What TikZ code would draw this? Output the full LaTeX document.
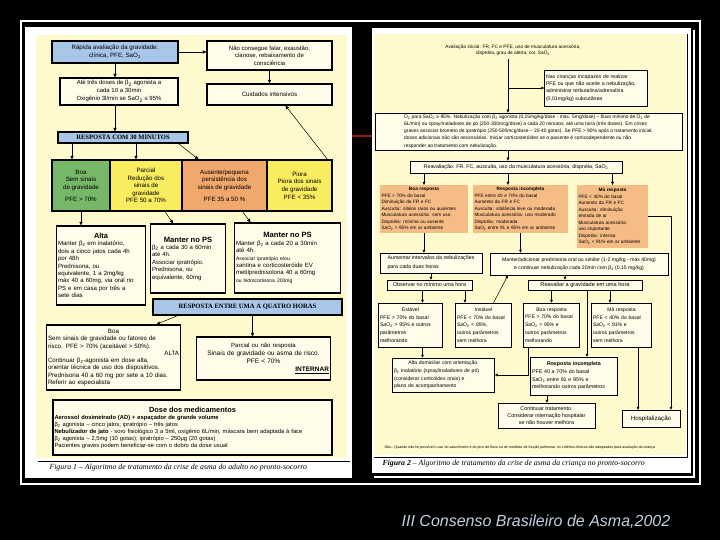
\documentclass[tikz,border=0pt]{standalone}
\usepackage{fontspec}
\setmainfont{Liberation Sans}
\newfontfamily\timesfont{Liberation Serif}
\usepackage{xcolor}
\definecolor{papercream}{RGB}{255,249,206}
\definecolor{boxcream}{RGB}{255,253,234}
\definecolor{barblue}{RGB}{168,198,232}
\definecolor{crgreen}{RGB}{118,184,104}
\definecolor{cryellow}{RGB}{250,236,95}
\definecolor{crorange}{RGB}{240,168,108}
\definecolor{kidorange}{RGB}{246,188,134}
\definecolor{joinred}{RGB}{150,25,25}
\definecolor{captxt}{RGB}{195,208,225}
\usetikzlibrary{arrows.meta}
\newcommand{\fsz}[2]{\fontsize{#1}{#2}\selectfont}
\newcommand{\betadois}{β\textsubscript{2}}
\newcommand{\saodois}{SaO\textsubscript{2}}
\newcommand{\odois}{O\textsubscript{2}}
\tikzset{
  adbox/.style={draw=black, line width=1.3pt, fill=boxcream, inner sep=1.5pt, align=center},
  adbar/.style={adbox, fill=barblue, font=\timesfont\bfseries\fsz{6.6}{7}},
  crbox/.style={adbox, font=\fsz{6.2}{7.6}},
  kidbox/.style={draw=black, line width=0.5pt, fill=boxcream, inner sep=1.5pt},
  kidcat/.style={fill=kidorange, inner sep=1.5pt, align=left, font=\fsz{4.7}{6.5}},
  adarr/.style={-{Triangle[length=3.5pt,width=3.2pt]}, line width=0.5pt},
  kidarr/.style={-{Triangle[length=3pt,width=2.8pt]}, line width=0.5pt}
}
\begin{document}
\begin{tikzpicture}[x=1pt,y=-1pt]
  \useasboundingbox (0,0) rectangle (720,540);
  \fill[black] (0,0) rectangle (720,540);
  %% Frames and paper
  \draw[white, line width=1.4pt] (21,21) rectangle (700,484);
  \fill[white] (25,27) rectangle (352,478);
  \fill[papercream] (36,35) rectangle (347,458);
  \draw[black, line width=0.6pt] (38,461) -- (350,461);
  \fill[white] (372,28) rectangle (691,473);
  \fill[papercream] (374,34) rectangle (686,455);
  \draw[black, line width=1pt] (687,34) -- (687,457) -- (374,457);
  \draw[white, line width=1.5pt] (694,30) -- (694,477) -- (374,477);
  \draw[joinred, line width=1.2pt] (352,136) -- (372,136);

  %% Adult algorithm (left)
  \node[crbox, fill=barblue, minimum width=126, minimum height=22] (rapida) at (115,52) {Rápida avaliação da gravidade:\\clínica, PFE, \saodois};
  \node[crbox, font=\fsz{6}{7.6}, minimum width=125, minimum height=29] (naoconsegue) at (269.5,55.5) {Não consegue falar, exaustão,\\cianose, rebaixamento de\\consciência};
  \node[crbox, font=\fsz{6}{8}, minimum width=118, minimum height=27] (atetres) at (119,91.5) {Até três doses de \betadois{} agonista a\\cada 10 a 30min\\Oxigênio 3l/min se \saodois{} ≤ 95\%};
  \node[crbox, minimum width=125, minimum height=21] (cuidados) at (269.5,94.5) {Cuidados intensivos};
  \node[adbar, minimum width=130, minimum height=11] (resp30) at (123,137.5) {RESPOSTA COM 30 MINUTOS};

  \node[crbox, fill=crgreen, minimum width=58, minimum height=51] (boa) at (81,185.5) {Boa\\Sem sinais\\de gravidade\\[4pt]PFE > 70\%};
  \node[crbox, fill=cryellow, minimum width=72, minimum height=51] (parcial) at (146,185.5) {Parcial\\Redução dos\\sinais de\\gravidade\\PFE 50 a 70\%};
  \node[crbox, fill=crorange, minimum width=85, minimum height=51] (ausente) at (224.5,185.5) {Ausente/pequena\\persistência dos\\sinais de gravidade\\[4pt]PFE 35 a 50 \%};
  \node[crbox, fill=cryellow, minimum width=65, minimum height=51] (piora) at (299.5,185.5) {Piora\\Piora dos sinais\\de gravidade\\PFE < 35\%};

  \node[adbox, align=left, text width=86, minimum height=79, font=\fsz{6.1}{7.4}] (alta) at (101,265.5) {{\centering\fsz{7.4}{9}\bfseries Alta\par}Manter \betadois{} em inalatório,\\dois a cinco jatos cada 4h\\por 48h\\Prednisona, ou\\equivalente, 1 a 2mg/kg\\máx 40 a 60mg, via oral no\\PS e em casa por três a\\sete dias};
  \node[adbox, align=left, text width=72, minimum height=69, font=\fsz{6}{7.4}] (manter1) at (188,258.5) {{\centering\fsz{7.6}{9}\bfseries Manter no PS\par}\betadois{} a cada 30 a 60min\\até 4h.\\Associar ipratrópio.\\Prednisona, ou\\equivalente, 60mg};
  \node[adbox, align=left, text width=103, minimum height=70, font=\fsz{6.1}{7.4}] (manter2) at (287.5,258) {{\centering\fsz{7.6}{9}\bfseries Manter no PS\par}Manter \betadois{} a cada 20 a 30min\\até 4h.\\{\fsz{5}{7.4}Associar ipratrópio e/ou}\\xantina e corticosteróide EV\\metilprednisolona 40 a 60mg\\{\fsz{5}{7.4}ou hidrocortisona 200mg}};
  \node[adbar, minimum width=189, minimum height=16] (resp14) at (247.5,307) {RESPOSTA ENTRE UMA A QUATRO HORAS};

  \node[adbox, align=left, text width=131, minimum height=65, font=\fsz{6.2}{7.3}] (boa2) at (113.5,357.5) {{\centering Boa\par}Sem sinais de gravidade ou fatores de\\risco. PFE > 70\% (aceitável > 50\%).\\\hspace*{\stretch{1000}}ALTA\\Continuar \betadois-agonista em dose alta,\\orientar técnica de uso dos dispositivos.\\Prednisona 40 a 60 mg por sete a 10 dias.\\Referir ao especialista};
  \node[adbox, text width=131, minimum height=43, font=\fsz{6.5}{8}] (parcial2) at (263.5,358.5) {{\fsz{6}{8}Parcial ou não resposta}\\Sinais de gravidade ou asma de risco.\\PFE < 70\%\\\hspace*{\stretch{1000}}\underline{\textbf{INTERNAR}}};
  \node[adbox, align=left, text width=276, minimum height=55, font=\fsz{5.8}{7}] (dose) at (192.5,427.5) {{\centering\fsz{7.4}{9}\bfseries Dose dos medicamentos\par}\textbf{Aerossol dosimetrado (AD) + espaçador de grande volume}\\\betadois{} agonista – cinco jatos; ipratrópio – três jatos\\\textbf{Nebulizador de jato} - soro fisiológico 3 a 5ml, oxigênio 6L/min, máscara bem adaptada à face\\\betadois{} agonista – 2,5mg (10 gotas); ipratrópio – 250μg (20 gotas)\\Pacientes graves podem beneficiar-se com o dobro da dose usual};
  \node[anchor=west, font=\timesfont\itshape\fsz{7.8}{9}] (fig1) at (46,468) {Figura 1 – Algoritmo de tratamento da crise de asma do adulto no pronto-socorro};

  \draw[adarr] (rapida.east) -- (naoconsegue.west |- rapida.east);
  \draw[adarr] (rapida.south) -- (rapida.south |- atetres.north);
  \draw[adarr] (naoconsegue.south) -- (cuidados.north);
  \draw[adarr] (rapida.south |- atetres.south) -- (rapida.south |- resp30.north);
  \draw[adarr] ([xshift=-9pt]boa.north |- resp30.south) -- ([xshift=-9pt]boa.north);
  \draw[adarr] ([xshift=-10pt]parcial.north |- resp30.south) -- ([xshift=-10pt]parcial.north);
  \draw[adarr] ([xshift=-10pt]resp30.south east) -- ([xshift=-26pt]ausente.north);
  \draw[adarr] ([xshift=28pt]piora.north) -- ([xshift=16pt]cuidados.south);
  \draw[adarr] (boa.south) -- (boa.south |- alta.north);
  \draw[adarr] ([xshift=19pt]parcial.south) -- ([xshift=-15pt]manter1.north);
  \draw[adarr] ([xshift=18pt]ausente.south) -- ([xshift=-37pt]manter2.north);
  \draw[adarr] ([xshift=-70pt]resp14.south) -- ([xshift=43pt]boa2.north);
  \draw[adarr] ([xshift=5pt]resp14.south) -- ([xshift=5pt]resp14.south |- parcial2.north);

  %% Child algorithm (right)
  \node[align=center, font=\fsz{4.8}{6.2}] (aval) at (513,50) {Avaliação inicial: FR, FC e PFE, uso de musculatura acessória,\\dispnéia, grau de alerta, cor, \saodois};
  \coordinate (trunk) at (508,58);
  \node[kidbox, align=left, text width=100, minimum height=36, font=\fsz{5.2}{7.2}] (nas) at (596,88) {Nas crianças incapazes de realizar\\PFE ou que não aceite a nebulização,\\administrar terbutalina/adrenalina\\(0,01mg/kg) subcutânea};
  \node[kidbox, align=left, minimum width=307, minimum height=37, font=\fsz{4.9}{7.2}] (o2box) at (528.5,131.5) {\odois{} para \saodois{} ≥ 95\%. Nebulização com \betadois{} agonista (0,15mg/kg/dose - máx. 5mg/dose) – fluxo mínimo de \odois{} de\\6L/min) ou spray/inaladores de pó (200-300mcg/dose) a cada 20 minutos, até uma hora (três doses). Em crises\\graves associar brometo de ipratrópio (250-500mcg/dose – 20-40 gotas). Se PFE > 90\% após o tratamento inicial,\\doses adicionais não são necessárias. Iniciar corticosteróides se o paciente é corticodependente ou não\\responder ao tratamento com nebulização.};
  \node[kidbox, minimum width=212, minimum height=12, font=\fsz{5.3}{6}] (reav) at (516,167) {Reavaliação: FR, FC, ausculta, uso da musculatura acessória, dispnéia, \saodois};

  \node[kidcat, text width=85, minimum height=48] (boaresp) at (424,209) {{\centering\bfseries Boa resposta\par}PFE > 70\% do basal\\Diminuição da FR e FC\\Ausculta: sibilos raros ou ausentes\\Musculatura acessória: sem uso\\Dispnéia: mínima ou ausente\\\saodois{} > 95\% em ar ambiente};
  \node[kidcat, text width=92, minimum height=48] (incomp) at (520.5,209) {{\centering\bfseries Resposta incompleta\par}PFE entre 40 e 70\% do basal\\Aumento da FR e FC\\Ausculta: sibilância leve ou moderada\\Musculatura acessória: uso moderado\\Dispnéia: moderada\\\saodois{} entre 91 e 95\% em ar ambiente};
  \node[kidcat, text width=68, minimum height=63] (maresp) at (612.5,216.5) {{\centering\bfseries Má resposta\par}PFE < 40\% do basal\\Aumento da FR e FC\\Ausculta: diminuição\\entrada de ar\\Musculatura acessória:\\uso importante\\Dispnéia: intensa\\\saodois{} < 91\% em ar ambiente};

  \node[kidbox, align=left, minimum width=102, minimum height=20, font=\fsz{5.3}{9}] (aumentar) at (431,263) {Aumentar intervalos da nebulizações\\para cada duas horas};
  \node[kidbox, align=center, minimum width=178, minimum height=22, font=\fsz{5.1}{7.5}] (manteradd) at (579,264) {Manter/adicionar prednisona oral ou similar (1-2 mg/kg - máx 40mg)\\e continuar nebulização cada 20min com \betadois{} (0,15 mg/kg)};
  \node[kidbox, minimum width=85, minimum height=10, inner sep=0.5pt, font=\fsz{5.4}{6}] (observar) at (429.5,285) {Observar no mínimo uma hora};
  \node[kidbox, minimum width=114, minimum height=10, inner sep=0.5pt, font=\fsz{5.6}{6}] (reavaliar) at (585,285) {Reavaliar a gravidade em uma hora};

  \node[kidbox, align=left, text width=61, minimum height=44, font=\fsz{5.2}{7.8}] (estavel) at (410.5,325) {{\centering Estável\par}PFE > 70\% do basal\\\saodois{} > 95\% e outros\\parâmetros\\melhorando};
  \node[kidbox, align=left, text width=53, minimum height=44, font=\fsz{5.1}{7.8}] (instavel) at (483.5,325) {{\centering Instável\par}PFE < 70\% do basal\\\saodois{} < 95\%,\\outros parâmetros\\sem melhora};
  \node[kidbox, align=left, text width=53, minimum height=44, font=\fsz{5.1}{7.8}] (boaresp2) at (551.5,325) {{\centering Boa resposta\par}PFE > 70\% do basal\\\saodois{} > 95\% e\\outros parâmetros\\melhorando};
  \node[kidbox, align=left, text width=57, minimum height=44, font=\fsz{5.1}{7.8}] (maresp2) at (621.5,325) {{\centering Má resposta\par}PFE < 40\% do basal\\\saodois{} < 91\% e\\outros parâmetros\\sem melhora};

  \node[kidbox, align=left, text width=99, minimum height=34, font=\fsz{5.1}{7.6}] (altadom) at (443.5,375) {{\centering Alta domiciliar com orientação.\par}\betadois{} inalatório (spray/inaladores de pó)\\(considerar corticóides orais) e\\plano de acompanhamento};
  \node[kidbox, align=left, text width=84, minimum height=38, font=\fsz{5.3}{7.6}] (incomp2) at (574,376) {{\centering\bfseries Resposta incompleta\par}PFE 40 a 70\% do basal\\\saodois{} entre 91 e 95\% e\\melhorando outros parâmetros};
  \node[kidbox, align=center, minimum width=97, minimum height=25, font=\fsz{5.4}{7.2}] (continuar) at (546.5,415.5) {Continuar tratamento.\\Considerar internação hospitalar\\se não houver melhora};
  \node[kidbox, minimum width=58, minimum height=17, font=\fsz{6.2}{7}] (hosp) at (651,418.5) {Hospitalização};

  \node[anchor=west, font=\fsz{3.6}{4}] (obs) at (381,448) {Obs.: Quando não for possível o uso do saturômetro e do pico de fluxo ou de medidas de função pulmonar, os critérios clínicos são adequados para avaliação da criança};
  \node[anchor=west, font=\timesfont\itshape\fsz{7.8}{9}] (fig2) at (379,464) {\textbf{Figura 2} – Algoritmo de tratamento da crise de asma da criança no pronto-socorro};

  \draw[kidarr] (aval.south -| trunk) -- (trunk |- o2box.north);
  \draw[kidarr] (trunk |- nas.west) -- (nas.west);
  \draw[kidarr] (trunk |- o2box.south) -- (trunk |- reav.north);
  \draw[kidarr] (boaresp.north |- reav.south) -- (boaresp.north);
  \draw[kidarr] (trunk |- reav.south) -- (trunk |- incomp.north);
  \draw[kidarr] (maresp.north |- reav.south) -- (maresp.north);
  \draw[kidarr] (maresp.east) -| ([xshift=20pt]hosp.north);
  \draw[kidarr] (boaresp.south) -- (boaresp.south |- aumentar.north);
  \draw[kidarr] (incomp.south) -- (incomp.south |- manteradd.north);
  \draw[kidarr] (aumentar.south) -- (aumentar.south |- observar.north);
  \draw[kidarr] ([xshift=-14pt]manteradd.south) -- ([xshift=-14pt]manteradd.south |- reavaliar.north);
  \draw[kidarr] ([xshift=12pt]estavel.north |- observar.south) -- ([xshift=12pt]estavel.north);
  \draw[kidarr] ([xshift=-18.5pt]instavel.north |- observar.south) -- ([xshift=-18.5pt]instavel.north);
  \draw[kidarr] ([xshift=10pt]instavel.north) -- ([xshift=-71pt]manteradd.south);
  \draw[kidarr] (boaresp2.north |- reavaliar.south) -- (boaresp2.north);
  \draw[kidarr] ([xshift=13pt]incomp2.north |- reavaliar.south) -- ([xshift=13pt]incomp2.north);
  \draw[kidarr] ([xshift=-11.5pt]maresp2.north |- reavaliar.south) -- ([xshift=-11.5pt]maresp2.north);
  \draw[kidarr] ([xshift=12pt]estavel.south) -- ([xshift=12pt]estavel.south |- altadom.north);
  \draw[kidarr] ([xshift=-23.5pt]boaresp2.south) |- (altadom.east);
  \draw[kidarr] ([xshift=-27pt]incomp2.south) -- ([xshift=-27pt]incomp2.south |- continuar.north);
  \draw[kidarr] ([xshift=16.5pt]maresp2.south) -- ([xshift=16.5pt]maresp2.south |- hosp.north);

  %% Slide credit
  \node[font=\itshape\fsz{16}{18}, text=captxt] (credit) at (536,522) {III Consenso Brasileiro de Asma,2002};
\end{tikzpicture}
\end{document}
